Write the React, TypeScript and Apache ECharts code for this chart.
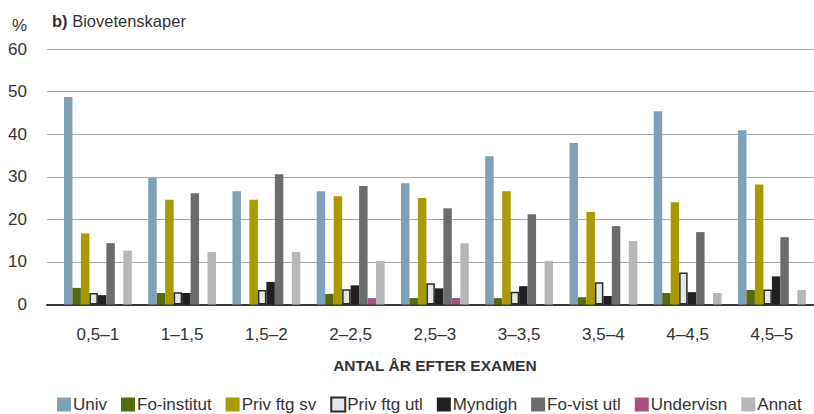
import React, { useEffect, useRef } from "react";
import * as echarts from "echarts";

const categories = ["0,5–1", "1–1,5", "1,5–2", "2–2,5", "2,5–3", "3–3,5", "3,5–4", "4–4,5", "4,5–5"];
const seriesNames = ["Univ", "Fo-institut", "Priv ftg sv", "Priv ftg utl", "Myndigh", "Fo-vist utl", "Undervisn", "Annat"];
const univ = [48.7, 29.7, 26.6, 26.6, 28.5, 34.8, 37.9, 45.4, 40.9];
const foInstitut = [3.9, 2.7, 0, 2.5, 1.5, 1.5, 1.7, 2.7, 3.4];
const privFtgSv = [16.7, 24.6, 24.6, 25.4, 25.0, 26.6, 21.7, 24.0, 28.2];
const privFtgUtl = [2.7, 2.9, 3.4, 3.6, 5.0, 3.0, 5.2, 7.5, 3.5];
const myndigh = [2.2, 2.7, 5.3, 4.5, 3.8, 4.3, 2.0, 2.9, 6.6];
const foVistUtl = [14.4, 26.1, 30.6, 27.8, 22.6, 21.2, 18.4, 17.0, 15.8];
const undervisn = [0, 0, 0, 1.5, 1.5, 0, 0, 0, 0];
const annat = [12.7, 12.3, 12.3, 10.2, 14.4, 10.2, 14.9, 2.7, 3.4];
const yTicks = [0, 10, 20, 30, 40, 50, 60];

const colors = ["#7fa1b8", "#556b10", "#a89a00", "#e6e7e8", "#231f20", "#6b6c6e", "#a5507f", "#b5b7b8"];
const FONT = "'Liberation Sans', Arial, sans-serif";

export default function App() {
  const ref = useRef<HTMLDivElement>(null);
  useEffect(() => {
    if (!ref.current) return;
    const chart = echarts.init(ref.current, undefined, { renderer: "svg" });
    const values = [univ, foInstitut, privFtgSv, privFtgUtl, myndigh, foVistUtl, undervisn, annat];
    const series = seriesNames.map((name, i) => ({
      name,
      type: "bar",
      xAxisIndex: 1,
      yAxisIndex: 1,
      barGap: "0%",
      barCategoryGap: "19.5%",
      data: values[i],
      itemStyle:
        i === 3
          ? { color: colors[i], borderColor: "#2a2a2a", borderWidth: 1.5 }
          : { color: colors[i] },
    }));
    chart.setOption({
      animation: false,
      textStyle: { fontFamily: FONT },
      grid: [
        { left: 47, right: 0, top: 49, bottom: 109.5 },
        { left: 55.75, right: -2.25, top: 49, bottom: 109.5 },
      ],
      xAxis: [
        {
          type: "value",
          gridIndex: 0,
          min: 0,
          max: 1,
          axisLine: { show: true, lineStyle: { color: "#3a3a3a", width: 2 } },
          axisTick: { show: false },
          axisLabel: { show: false },
          splitLine: { show: false },
        },
        {
          type: "category",
          gridIndex: 1,
          data: categories,
          axisLine: { show: false },
          axisTick: { show: false },
          axisLabel: { color: "#333", fontSize: 17, margin: 21, fontFamily: FONT },
          name: "ANTAL ÅR EFTER EXAMEN",
          nameLocation: "middle",
          nameGap: 53,
          nameTextStyle: { color: "#333", fontSize: 15.5, fontWeight: "bold", fontFamily: FONT, verticalAlign: "top" },
        },
      ],
      yAxis: [
        {
          type: "value",
          gridIndex: 0,
          min: yTicks[0],
          max: yTicks[yTicks.length - 1],
          interval: 10,
          axisLine: { show: false },
          axisTick: { show: false },
          axisLabel: { color: "#333", fontSize: 17, margin: 20, fontFamily: FONT },
          splitLine: { lineStyle: { color: "#a8a8a8", width: 1 } },
        },
        {
          type: "value",
          gridIndex: 1,
          min: 0,
          max: 60,
          interval: 10,
          show: false,
          splitLine: { show: false },
        },
      ],
      legend: {
        data: seriesNames,
        left: 57,
        top: 396,
        padding: 0,
        itemWidth: 14,
        itemHeight: 14,
        itemGap: 14,
        icon: "rect",
        textStyle: { color: "#333", fontSize: 17, lineHeight: 16, fontFamily: FONT, padding: [0, 0, 0, -3] },
      },
      graphic: [
        {
          type: "text",
          left: 12,
          top: 17,
          style: { text: "%", fontSize: 17, fill: "#333", fontFamily: FONT },
        },
        {
          type: "text",
          left: 52,
          top: 12,
          style: {
            text: "{b|b)} Biovetenskaper",
            fontSize: 16.5,
            fill: "#333",
            fontFamily: FONT,
            rich: {
              b: { fontWeight: "bold", fontSize: 16.5, fill: "#333", fontFamily: FONT },
            },
          },
        },
      ],
      series,
    });
    return () => chart.dispose();
  }, []);
  return <div ref={ref} style={{ width: 814, height: 414, position: "absolute", left: 0, top: 0 }} />;
}
